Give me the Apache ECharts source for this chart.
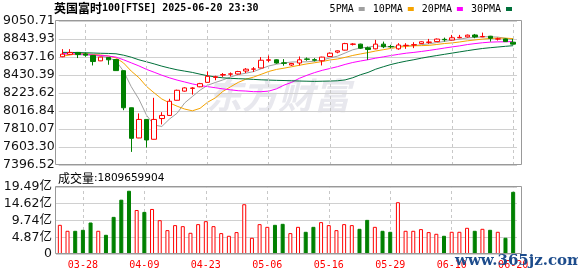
<!DOCTYPE html>
<html><head><meta charset="utf-8">
<script src="https://cdn.jsdelivr.net/npm/echarts@6/dist/echarts.min.js"></script>
<style>html,body{margin:0;padding:0;background:#fff}#c{width:578px;height:276px}</style>
</head><body><div id="c"></div>
<script>
const dates = ['03-25','03-26','03-27','03-28','03-31','04-01','04-02','04-03','04-04','04-07','04-08','04-09','04-10','04-11','04-14','04-15','04-16','04-17','04-22','04-23','04-24','04-25','04-28','04-29','04-30','05-01','05-02','05-06','05-07','05-08','05-09','05-12','05-13','05-14','05-15','05-16','05-19','05-20','05-21','05-22','05-23','05-27','05-28','05-29','05-30','06-02','06-03','06-04','06-05','06-06','06-09','06-10','06-11','06-12','06-13','06-16','06-17','06-18','06-19','06-20'];
const opens  = [8640,8668,8690,8672,8655,8593,8632,8608,8480,8054,7707,7920,7692,7930,7966,8140,8245,8277,8295,8346,8403,8430,8440,8442,8476,8497,8511,8600,8605,8570,8545,8568,8615,8607,8594,8643,8693,8716,8783,8785,8743,8731,8785,8758,8731,8768,8775,8791,8805,8814,8840,8832,8858,8868,8890,8868,8876,8843,8845,8807];
const closes = [8670,8689,8666,8658,8585,8636,8605,8481,8054,7703,7920,7684,7920,7966,8129,8255,8282,8281,8331,8415,8410,8435,8443,8470,8497,8500,8600,8605,8568,8565,8563,8605,8610,8600,8636,8681,8708,8791,8786,8739,8724,8785,8755,8755,8775,8772,8779,8812,8809,8843,8835,8858,8863,8888,8868,8873,8853,8846,8814,8785];
const lows   = [8635,8660,8625,8640,8540,8590,8548,8478,8026,7547,7705,7597,7690,7863,7963,8138,8240,8205,8290,8344,8370,8408,8414,8435,8453,8465,8508,8579,8560,8537,8535,8540,8594,8586,8540,8640,8680,8712,8769,8730,8605,8725,8739,8739,8720,8731,8739,8785,8788,8810,8814,8828,8853,8860,8853,8865,8814,8826,8810,8780];
const highs  = [8727,8727,8695,8690,8660,8640,8636,8612,8482,8056,7989,7922,8168,8003,8157,8262,8290,8290,8340,8472,8422,8453,8460,8478,8510,8522,8636,8654,8610,8613,8570,8643,8632,8624,8640,8690,8712,8800,8796,8790,8757,8834,8814,8777,8796,8796,8807,8818,8845,8850,8860,8891,8891,8895,8902,8917,8880,8860,8850,8845];
// volume in 亿
const volumes = [8.49,6.75,6.75,7.04,9.16,6.75,5.59,10.8,15.8,18.4,12.8,12.25,13.1,9.84,6.94,8.4,8.1,6.17,8.69,9.55,8.1,6.08,5.3,6.37,14.48,4.72,8.69,7.9,8.49,8.78,6.08,7.9,6.46,7.9,9.27,8.4,6.94,8.69,8.4,7.33,9.93,7.9,6.75,6.46,15.06,6.75,6.75,7.24,6.37,5.88,5.3,6.46,6.46,7.62,6.75,7.33,7.04,6.46,4.72,18.0966];
const latestVolume = 1809659904;
const ma5  = [8672,8669,8662,8664,8654,8647,8630,8593,8472,8296,8153,7968,7856,7839,7924,7991,8110,8183,8256,8313,8344,8374,8407,8435,8451,8469,8502,8534,8554,8568,8580,8581,8582,8589,8603,8626,8647,8683,8720,8741,8750,8765,8758,8752,8759,8768,8767,8779,8789,8803,8816,8831,8842,8857,8862,8870,8869,8866,8851,8834];
const ma10 = [8646,8661,8673,8676,8666,8660,8649,8627,8568,8475,8400,8299,8225,8155,8110,8072,8039,8019,8047,8118,8167,8242,8295,8345,8382,8406,8438,8471,8494,8509,8525,8542,8558,8571,8585,8603,8614,8633,8655,8672,8688,8706,8721,8736,8750,8759,8766,8768,8771,8781,8792,8799,8810,8823,8833,8843,8850,8854,8854,8848];
const ma20 = [8675,8676,8672,8668,8660,8655,8648,8636,8605,8570,8535,8495,8462,8428,8398,8372,8350,8328,8310,8297,8284,8271,8260,8250,8246,8239,8239,8245,8271,8314,8346,8392,8427,8458,8484,8505,8526,8552,8574,8591,8606,8624,8639,8654,8668,8681,8690,8701,8713,8726,8740,8753,8765,8780,8791,8801,8808,8811,8812,8815];
const ma30 = [8690,8690,8688,8686,8683,8680,8678,8674,8658,8635,8605,8582,8558,8532,8510,8490,8475,8460,8440,8422,8408,8398,8392,8388,8385,8380,8375,8372,8369,8367,8364,8361,8359,8357,8359,8361,8364,8374,8399,8433,8460,8497,8525,8551,8572,8590,8606,8624,8640,8654,8668,8682,8696,8710,8723,8735,8744,8752,8760,8767];
const maNames = ['5PMA','10PMA','20PMA','30PMA'];
const priceTicks = [7396.52,7603.30,7810.07,8016.84,8223.62,8430.39,8637.16,8843.93,9050.71];
const volTicks = [0,4.87,9.74,14.62,19.49];
const xLabelDates = ['03-28','04-09','04-23','05-06','05-16','05-29','06-10','06-20'];

const UP = '#ff0000', DOWN = '#008000';
const maColors = ['#a0a0a0','#f5a300','#ff00ff','#00703a'];
const maData = [ma5, ma10, ma20, ma30];
const vline = {
  symbol:['none','none'], silent:true, label:{show:false},
  lineStyle:{type:[3,3], color:'#c8c8c8', width:1},
  emphasis:{disabled:true},
  data: xLabelDates.map(d => ({xAxis:d}))
};

const chart = echarts.init(document.getElementById('c'), null, {renderer:'canvas'});
const option = {
  animation:false,
  backgroundColor:'#ffffff',
  title:{
    text:'{cn|英国富时}{en|100[FTSE] 2025-06-20 23:30}',
    left:54, top:2, padding:0,
    textStyle:{rich:{
      cn:{fontFamily:'Noto Sans CJK SC', fontSize:12, color:'#000'},
      en:{fontFamily:'DejaVu Sans Mono', fontSize:10, color:'#000'}
    }}
  },
  legend:{
    data:maNames, right:66, top:4, padding:0,
    itemWidth:6, itemHeight:4, itemGap:8, align:'right', icon:'rect',
    selectedMode:false,
    textStyle:{fontFamily:'DejaVu Sans Mono', fontSize:10, color:'#000'}
  },
  grid:[
    {left:56, top:21, width:461, height:144},
    {left:56, top:187, width:461, height:67}
  ],
  xAxis:[
    {type:'category', gridIndex:0, data:dates, boundaryGap:true,
     axisLine:{show:false}, axisTick:{show:false}, axisLabel:{show:false}, splitLine:{show:false}},
    {type:'category', gridIndex:1, data:dates, boundaryGap:true,
     axisLine:{show:false}, axisTick:{show:false}, splitLine:{show:false},
     axisLabel:{show:true, interval:(i, v) => xLabelDates.indexOf(v) >= 0,
       color:UP, fontFamily:'DejaVu Sans Mono', fontSize:10, margin:6, hideOverlap:false}}
  ],
  yAxis:[
    {type:'value', gridIndex:0, min:priceTicks[0], max:priceTicks[priceTicks.length-1],
     axisLine:{show:false}, axisTick:{show:false, customValues:priceTicks},
     axisLabel:{customValues:priceTicks, formatter:v => v.toFixed(2),
       fontFamily:'DejaVu Sans', fontSize:12.5, color:'#111', margin:4},
     splitLine:{show:true, lineStyle:{color:'#d0d0d0', width:1}}},
    {type:'value', gridIndex:1, min:volTicks[0], max:volTicks[volTicks.length-1],
     axisLine:{show:false}, axisTick:{show:false, customValues:volTicks},
     axisLabel:{customValues:volTicks, formatter:v => v === 0 ? '0' : v.toFixed(2) + '亿',
       fontFamily:'DejaVu Sans, Noto Sans CJK SC', fontSize:12.5, color:'#111', margin:4},
     splitLine:{show:true, lineStyle:{color:'#d0d0d0', width:1}}}
  ],
  series:[
    {type:'candlestick', name:'K', xAxisIndex:0, yAxisIndex:0, z:5, barWidth:5,
     data: dates.map((d,i) => [opens[i], closes[i], lows[i], highs[i]]),
     itemStyle:{color:'#ffffff', color0:DOWN, borderColor:UP, borderColor0:DOWN, borderWidth:1},
     markLine: vline},
    {type:'bar', name:'VOL', xAxisIndex:1, yAxisIndex:1, barWidth:4, z:5,
     data: volumes.map((v,i) => ({value:v,
       itemStyle: closes[i] >= opens[i] ? {color:'#ffffff', borderColor:UP, borderWidth:1}
                                        : {color:DOWN, borderColor:DOWN, borderWidth:1}})),
     markLine: vline},
    ...maNames.map((n,k) => ({
      type:'line', name:n, xAxisIndex:0, yAxisIndex:0, data:maData[k], z:3,
      symbol:'none', showSymbol:false, silent:true,
      color:maColors[k], itemStyle:{color:maColors[k]},
      lineStyle:{width:1, color:maColors[k]}
    }))
  ],
  graphic:[
    {type:'text', z:0, silent:true, x:206, y:77,
     style:{text:'东方财富', font:'italic bold 36px "Noto Sans CJK SC"', fill:'#e8e8ee'}},
    {type:'rect', z:100, silent:true, shape:{x:55.5, y:20.5, width:466, height:144},
     style:{fill:'none', stroke:'#999', lineWidth:1}},
    {type:'rect', z:100, silent:true, shape:{x:55.5, y:186.5, width:466, height:67},
     style:{fill:'none', stroke:'#999', lineWidth:1}},
    {type:'text', z:100, silent:true, x:58, y:172,
     style:{text:'{cn|成交量}{en|:' + latestVolume + '}',
       rich:{cn:{fontFamily:'Noto Sans CJK SC', fontSize:12, fill:'#000'},
             en:{fontFamily:'DejaVu Sans', fontSize:10.5, fill:'#000'}}}},
    {type:'text', z:100, silent:true, x:455, y:254,
     style:{text:'www.365jz.com', font:'bold 15px "DejaVu Serif"', fill:'#1d4c8c'}}
  ]
};
chart.setOption(option);
</script>
</body></html>
